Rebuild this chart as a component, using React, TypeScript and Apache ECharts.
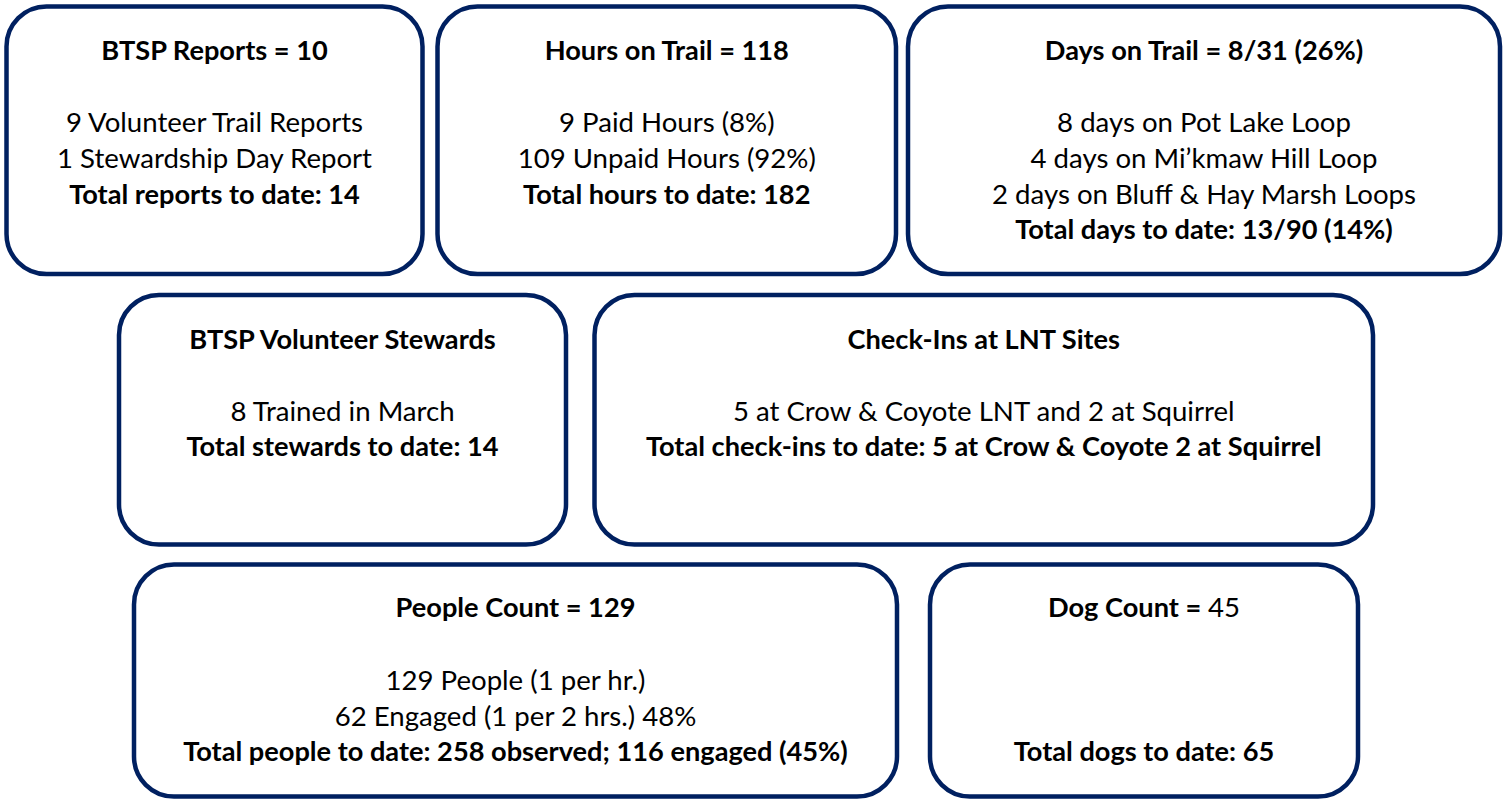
import React, { useEffect, useRef } from "react";
import * as echarts from "echarts";

const FONT = "Lato, 'Open Sans', sans-serif";
const BORDER = "#002060";
const SIZE_NORMAL = 27.6;
const SIZE_BOLD = 27.2;

// Panel titles and lines (text content)
const titles = [
  "BTSP Reports = 10",
  "Hours on Trail = 118",
  "Days on Trail = 8/31 (26%)",
  "BTSP Volunteer Stewards",
  "Check-Ins at LNT Sites",
  "People Count = 129",
  "Dog Count = ",
];
const dogCountValue = "45";

const bodyLines: string[][] = [
  ["9 Volunteer Trail Reports", "1 Stewardship Day Report"],
  ["9 Paid Hours (8%)", "109 Unpaid Hours (92%)"],
  ["8 days on Pot Lake Loop", "4 days on Mi\u2019kmaw Hill Loop", "2 days on Bluff & Hay Marsh Loops"],
  ["8 Trained in March"],
  ["5 at Crow & Coyote LNT and 2 at Squirrel"],
  ["129 People (1 per hr.)", "62 Engaged (1 per 2 hrs.) 48%"],
  [],
];

const totals = [
  "Total reports to date: 14",
  "Total hours to date: 182",
  "Total days to date: 13/90 (14%)",
  "Total stewards to date: 14",
  "Total check-ins to date: 5 at Crow & Coyote 2 at Squirrel",
  "Total people to date: 258 observed; 116 engaged (45%)",
  "Total dogs to date: 65",
];

// Layout of panels: [x, y, width, height]
const boxes: number[][] = [
  [6.5, 6.5, 416, 267.5],
  [437.5, 6.5, 458.5, 267.5],
  [908, 6.5, 592, 267.5],
  [119, 295, 447, 249.5],
  [594.5, 295, 778.5, 249.5],
  [134, 564.5, 763, 232],
  [930, 564.5, 428, 232],
];
// title y, first body line y, total y
const textYs: number[][] = [
  [49, 121, 193],
  [49, 121, 193],
  [49, 121, 228],
  [338, 410, 445],
  [338, 410, 445],
  [606, 679, 750],
  [606, 679, 750],
];
const LINE_GAP = 36;

export default function App() {
  const ref = useRef<HTMLDivElement>(null);
  useEffect(() => {
    document.body.style.margin = "0";
    const chart = echarts.init(ref.current!, null, { renderer: "svg" });
    const graphic: any[] = [];
    boxes.forEach((b, i) => {
      const [x, y, w, h] = b;
      const cx = x + w / 2;
      graphic.push({
        type: "rect",
        shape: { x, y, width: w, height: h, r: 40 },
        style: { fill: "#fff", stroke: BORDER, lineWidth: 4.5 },
      });
      const [ty, by, toty] = textYs[i];
      if (i === 6) {
        graphic.push({
          type: "text",
          x: cx,
          y: ty,
          style: {
            text: "{b|" + titles[i] + "}{n|" + dogCountValue + "}",
            align: "center",
            verticalAlign: "middle",
            rich: {
              b: { fontFamily: FONT, fontSize: SIZE_BOLD, fontWeight: "bold", fill: "#000" },
              n: { fontFamily: FONT, fontSize: SIZE_NORMAL, fontWeight: "normal", fill: "#000" },
            },
          },
        });
      } else {
        graphic.push({
          type: "text",
          x: cx,
          y: ty,
          style: {
            text: titles[i],
            align: "center",
            verticalAlign: "middle",
            fontFamily: FONT,
            fontSize: SIZE_BOLD,
            fontWeight: "bold",
            fill: "#000",
          },
        });
      }
      bodyLines[i].forEach((line, j) => {
        graphic.push({
          type: "text",
          x: cx,
          y: by + j * LINE_GAP,
          style: {
            text: line,
            align: "center",
            verticalAlign: "middle",
            fontFamily: FONT,
            fontSize: SIZE_NORMAL,
            fontWeight: "normal",
            fill: "#000",
          },
        });
      });
      graphic.push({
        type: "text",
        x: cx,
        y: toty,
        style: {
          text: totals[i],
          align: "center",
          verticalAlign: "middle",
          fontFamily: FONT,
          fontSize: SIZE_BOLD,
          fontWeight: "bold",
          fill: "#000",
        },
      });
    });
    chart.setOption({
      animation: false,
      backgroundColor: "#fff",
      graphic,
    });
    return () => chart.dispose();
  }, []);
  return <div ref={ref} style={{ width: 1505, height: 799 }} />;
}
